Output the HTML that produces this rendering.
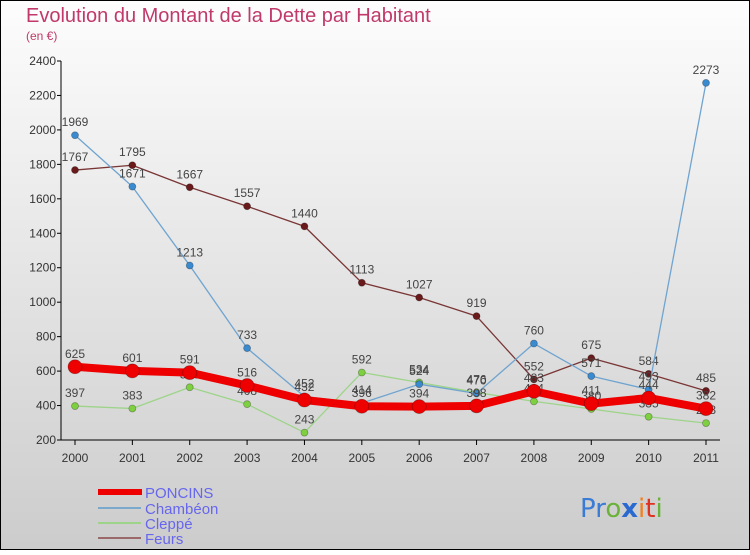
<!DOCTYPE html>
<html><head><meta charset="utf-8"><style>
body{margin:0;width:750px;height:550px;overflow:hidden;font-family:"Liberation Sans",sans-serif}
</style></head><body>
<svg width="750" height="550" xmlns="http://www.w3.org/2000/svg">
<defs><linearGradient id="bg" x1="0" y1="0" x2="0" y2="1"><stop offset="0" stop-color="#fdfdfd"/><stop offset="1" stop-color="#cccccc"/></linearGradient></defs>
<rect x="0.5" y="0.5" width="749" height="549" fill="url(#bg)" stroke="#000"/>
<text x="26" y="22" font-size="20" fill="#c0396a">Evolution du Montant de la Dette par Habitant</text>
<text x="26" y="40" font-size="12" fill="#c0396a">(en €)</text>
<g id="axes"></g><g id="series"></g>
<g>
<rect x="98" y="489" width="44" height="6" fill="#e00"/>
<text x="145" y="498" font-size="15" fill="#6666ee">PONCINS</text>
<line x1="98" y1="508" x2="141" y2="508" stroke="#7aa9cc" stroke-width="2"/>
<text x="145" y="514" font-size="15" fill="#6666ee">Chambéon</text>
<line x1="98" y1="523" x2="141" y2="523" stroke="#9ed48a" stroke-width="2"/>
<text x="145" y="529" font-size="15" fill="#6666ee">Cleppé</text>
<line x1="98" y1="538" x2="141" y2="538" stroke="#9a6a6a" stroke-width="2"/>
<text x="145" y="544" font-size="15" fill="#6666ee">Feurs</text>
</g>
<text x="580" y="517" font-size="26" font-family="'DejaVu Sans',sans-serif"><tspan fill="#3a7bd5">Pr</tspan><tspan fill="#6bb23a">o</tspan><tspan fill="#2a6ad0" font-weight="bold">x</tspan><tspan fill="#f08020">i</tspan><tspan fill="#e03020">t</tspan><tspan fill="#6bb23a">i</tspan></text>
</svg>
<script>
const years=["2000","2001","2002","2003","2004","2005","2006","2007","2008","2009","2010","2011"];
const yTicks=[200,400,600,800,1000,1200,1400,1600,1800,2000,2200,2400];
const poncins=[625,601,591,516,432,396,394,398,483,411,444,382];
const chambeon=[1969,1671,1213,733,452,414,524,470,760,571,493,2273];
const cleppe=[397,383,506,408,243,592,534,476,424,380,335,298];
const feurs=[1767,1795,1667,1557,1440,1113,1027,919,552,675,584,485];
const NS="http://www.w3.org/2000/svg";
const X=i=>75+i*(631/11);
const Y=v=>440-(v-200)*(379/2200);
function mk(t,a,p){const e=document.createElementNS(NS,t);for(const k in a)e.setAttribute(k,a[k]);p.appendChild(e);return e;}
const ax=document.getElementById('axes');
let yl=mk('line',{x1:61,y1:61,x2:61,y2:440,stroke:'#000'},ax);


yTicks.forEach(v=>{
 const l=mk('line',{x1:57,y1:Y(v),x2:61,y2:Y(v),stroke:'#000'},ax);
 
 
 const t=mk('text',{x:56,y:Y(v)+4,'font-size':12,'text-anchor':'end',fill:'#333'},ax);t.textContent=v;
 
 
});
let xl=mk('line',{x1:61,y1:440,x2:720,y2:440,stroke:'#000'},ax);


years.forEach((y,i)=>{
 const l=mk('line',{x1:X(i),y1:440,x2:X(i),y2:445,stroke:'#000'},ax);
 
 
 const t=mk('text',{x:X(i),y:462,'font-size':12,'text-anchor':'middle',fill:'#333'},ax);t.textContent=y;
 
 
});
const sg=document.getElementById('series');
function draw(name,vals,color,w,r,dot){
 const g=mk('g',{},sg);
 
 
 const pl=mk('polyline',{points:vals.map((v,i)=>X(i)+','+Y(v)).join(' '),fill:'none',stroke:color,'stroke-width':w,'stroke-linejoin':'round'},g);
 
 
 vals.forEach((v,i)=>{
  const c=mk('circle',{cx:X(i),cy:Y(v),r:r,fill:dot,stroke:'rgba(0,0,0,0.3)','stroke-width':0.8},g);
  
  
  const t=mk('text',{x:X(i),y:Y(v)-9,'font-size':12,'text-anchor':'middle',fill:'#444'},g);t.textContent=v;
  
  
 });
}
draw('cleppe',cleppe,'#9ed48a',1.3,3.5,'#7ed040');
draw('feurs',feurs,'#7a3535',1.3,3.5,'#6a1a1a');
draw('chambeon',chambeon,'#6fa4d0',1.3,3.5,'#3a8ad0');
draw('poncins',poncins,'#ee0000',8,7,'#ee0000');
</script>
</body></html>
